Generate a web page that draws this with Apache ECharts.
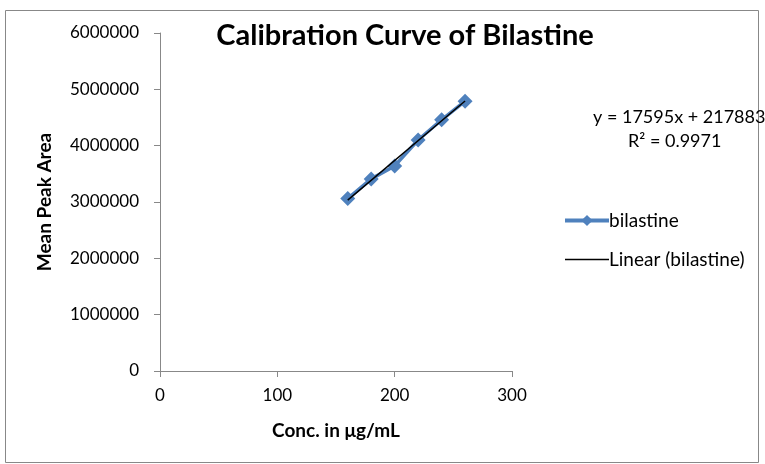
<!DOCTYPE html>
<html>
<head>
    <meta charset="utf-8">
    <script src="https://cdn.jsdelivr.net/npm/echarts@6/dist/echarts.min.js"></script>
</head>
<body style="margin:0">
    <div id="main" style="width: 765px;height:464px;"></div>
    <script type="text/javascript">
        // data
        var conc = [160, 180, 200, 220, 240, 260];
        var peakArea = [3060000, 3410000, 3640000, 4100000, 4460000, 4790000];
        var slope = 17595, intercept = 217883;
        var fitX = [160, 260];

        var seriesData = conc.map(function (x, i) { return [x, peakArea[i]]; });
        var fitData = fitX.map(function (x) { return [x, slope * x + intercept]; });

        var myChart = echarts.init(document.getElementById('main'));
        var font = 'Lato, "Open Sans", sans-serif';
        // thin line icon for the trend legend (tiny corner dots keep the box 44x14)
        var thinLine = 'path://M0,0h0.01v0.01h-0.01z M0,6.3h44v1.4h-44z M43.99,13.99h0.01v0.01h-0.01z';

        var option = {
            backgroundColor: '#fff',
            animation: false,
            textStyle: { fontFamily: font },
            title: {
                text: 'Calibration Curve of Bilastine',
                left: 400, top: 16, textAlign: 'center',
                textStyle: { fontSize: 29, fontWeight: 'bold', color: '#000', fontFamily: font }
            },
            legend: {
                orient: 'vertical',
                left: 558, top: 206,
                itemWidth: 44, itemHeight: 14, itemGap: 20,
                textStyle: { fontSize: 19, color: '#000', fontFamily: font, padding: [0, 0, 0, -5] },
                data: [
                    { name: 'bilastine', lineStyle: { width: 4 } },
                    { name: 'Linear (bilastine)', icon: thinLine, itemStyle: { color: '#000' } }
                ]
            },
            grid: { left: 160, right: 253, top: 33, bottom: 93 },
            xAxis: {
                type: 'value', min: 0, max: 300, interval: 100,
                name: 'Conc. in μg/mL', nameLocation: 'middle', nameGap: 50,
                nameTextStyle: { fontSize: 19, fontWeight: 'bold', color: '#000' },
                axisLine: { lineStyle: { color: '#888' } },
                axisTick: { show: true, length: 6, lineStyle: { color: '#888' } },
                axisLabel: { fontSize: 17, color: '#000', margin: 16 },
                splitLine: { show: false }
            },
            yAxis: {
                type: 'value', min: 0, max: 6000000, interval: 1000000,
                name: 'Mean Peak Area', nameLocation: 'middle', nameGap: 106,
                nameTextStyle: { fontSize: 19, fontWeight: 'bold', color: '#000' },
                axisLine: { show: true, lineStyle: { color: '#888' } },
                axisTick: { show: true, length: 6, lineStyle: { color: '#888' } },
                axisLabel: { fontSize: 17, color: '#000', margin: 21, formatter: function (v) { return String(v); } },
                splitLine: { show: false }
            },
            graphic: [
                { type: 'rect', shape: { x: 5.5, y: 10.5, width: 753, height: 452 }, style: { fill: 'none', stroke: '#888', lineWidth: 1 }, silent: true },
                { type: 'text', left: 593, top: 108, style: { text: 'y = 17595x + 217883', fontSize: 18, fill: '#000', fontFamily: font } },
                { type: 'text', left: 628, top: 132, style: { text: 'R² = 0.9971', fontSize: 18, fill: '#000', fontFamily: font } }
            ],
            series: [
                {
                    name: 'bilastine', type: 'line', data: seriesData,
                    symbol: 'diamond', symbolSize: 15,
                    itemStyle: { color: '#4F81BD' },
                    lineStyle: { color: '#4F81BD', width: 3.5 },
                    z: 2
                },
                {
                    name: 'Linear (bilastine)', type: 'line', data: fitData,
                    symbol: 'none',
                    itemStyle: { color: '#000' },
                    lineStyle: { color: '#000', width: 1.5 },
                    z: 3
                }
            ]
        };
        myChart.setOption(option);
    </script>
</body>
</html>
